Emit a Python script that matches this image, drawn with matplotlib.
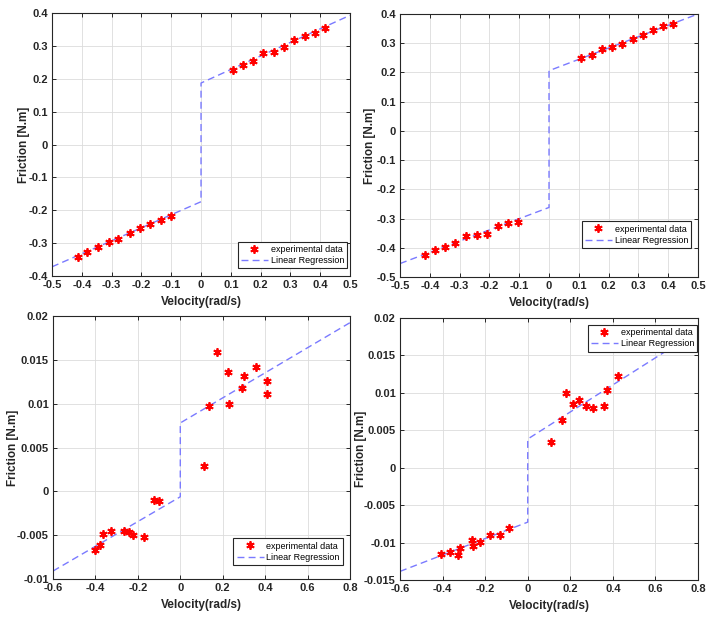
import numpy as np
import matplotlib
matplotlib.use('Agg')
import matplotlib.pyplot as plt
from matplotlib.ticker import FuncFormatter

plt.rcParams['font.family'] = ['Liberation Sans', 'DejaVu Sans']
plt.rcParams['axes.unicode_minus'] = False

# panel 1 (top left)
vel1 = [-0.412, -0.381, -0.345, -0.310, -0.277, -0.240, -0.205, -0.170, -0.135, -0.101,
        0.108, 0.141, 0.176, 0.208, 0.245, 0.279, 0.312, 0.348, 0.382, 0.417]
fric1 = [-0.342, -0.327, -0.313, -0.296, -0.286, -0.270, -0.253, -0.242, -0.230, -0.218,
         0.226, 0.243, 0.254, 0.278, 0.282, 0.298, 0.318, 0.331, 0.340, 0.355]
reg_x1 = [-0.5, 0, 0, 0.5]
reg_y1 = [-0.372, -0.174, 0.187, 0.393]

# panel 2 (top right)
vel2 = [-0.417, -0.382, -0.349, -0.315, -0.278, -0.242, -0.209, -0.172, -0.137, -0.105,
        0.107, 0.143, 0.177, 0.211, 0.245, 0.281, 0.315, 0.349, 0.382, 0.416]
fric2 = [-0.425, -0.409, -0.397, -0.385, -0.358, -0.357, -0.354, -0.327, -0.316, -0.313,
         0.248, 0.258, 0.279, 0.287, 0.298, 0.314, 0.328, 0.345, 0.358, 0.365]
reg_x2 = [-0.5, 0, 0, 0.5]
reg_y2 = [-0.454, -0.262, 0.206, 0.400]

# panel 3 (bottom left)
vel3 = [-0.404, -0.380, -0.366, -0.329, -0.264, -0.242, -0.222, -0.170, -0.124, -0.099,
        0.111, 0.134, 0.172, 0.224, 0.232, 0.290, 0.301, 0.357, 0.407, 0.407]
fric3 = [-0.00666, -0.00617, -0.00487, -0.00457, -0.00453, -0.00465, -0.00499, -0.00518, -0.00096, -0.00115,
         0.00291, 0.00971, 0.01594, 0.01362, 0.00997, 0.01184, 0.01320, 0.01423, 0.01256, 0.01108]
reg_x3 = [-0.6, 0, 0, 0.8]
reg_y3 = [-0.00909, -0.00062, 0.0078, 0.01924]

# panel 4 (bottom right)
vel4 = [-0.408, -0.365, -0.329, -0.317, -0.261, -0.259, -0.225, -0.175, -0.129, -0.090,
        0.107, 0.159, 0.178, 0.214, 0.240, 0.273, 0.306, 0.356, 0.373, 0.426]
fric4 = [-0.01154, -0.01123, -0.01163, -0.01078, -0.00967, -0.01047, -0.00989, -0.00900, -0.00905, -0.00811,
         0.00348, 0.00632, 0.01001, 0.00845, 0.00903, 0.00823, 0.00796, 0.00823, 0.01041, 0.01223]
reg_x4 = [-0.6, 0, 0, 0.8]
reg_y4 = [-0.01385, -0.00727, 0.00383, 0.0183]

panels = [
    dict(pos=[0.0736, 0.5541, 0.4215, 0.4249], v=vel1, f=fric1, rx=reg_x1, ry=reg_y1,
         xlim=(-0.5, 0.5), xt=np.arange(-0.5, 0.51, 0.1), ylim=(-0.4, 0.4), yt=np.arange(-0.4, 0.41, 0.1),
         leg=('lower right', (0.99, 0.03)), ylx=-0.0755),
    dict(pos=[0.5658, 0.5525, 0.4215, 0.4249], v=vel2, f=fric2, rx=reg_x2, ry=reg_y2,
         xlim=(-0.5, 0.5), xt=np.arange(-0.5, 0.51, 0.1), ylim=(-0.5, 0.4), yt=np.arange(-0.5, 0.41, 0.1),
         leg=('lower right', (0.977, 0.11)), ylx=-0.082),
    dict(pos=[0.075, 0.0646, 0.42, 0.4249], v=vel3, f=fric3, rx=reg_x3, ry=reg_y3,
         xlim=(-0.6, 0.8), xt=np.arange(-0.6, 0.81, 0.2), ylim=(-0.01, 0.02), yt=np.arange(-0.01, 0.0201, 0.005),
         leg=('lower right', (0.976, 0.053)), ylx=-0.116),
    dict(pos=[0.5658, 0.063, 0.4215, 0.4233], v=vel4, f=fric4, rx=reg_x4, ry=reg_y4,
         xlim=(-0.6, 0.8), xt=np.arange(-0.6, 0.81, 0.2), ylim=(-0.015, 0.02), yt=np.arange(-0.015, 0.0201, 0.005),
         leg=('upper right', (0.997, 0.973)), ylx=-0.111),
]

def fmt(v, pos):
    v = round(v, 6)
    if v == 0:
        return '0'
    return f'{v:g}'

fig = plt.figure(figsize=(7.07, 6.19), dpi=100)
dark = '#262626'

for p in panels:
    ax = fig.add_axes(p['pos'])
    ax.plot(p['v'], p['f'], linestyle='none', marker=(6, 2, 0), markersize=6,
            markeredgewidth=1.3, color='red', label='experimental data', zorder=3)
    ax.plot(p['rx'], p['ry'], linestyle=(0, (5, 3)), color='#7a7aff', linewidth=1.0,
            label='Linear Regression', zorder=2)
    ax.set_xlim(p['xlim'])
    ax.set_ylim(p['ylim'])
    ax.set_xticks(p['xt'])
    ax.set_yticks(p['yt'])
    ax.xaxis.set_major_formatter(FuncFormatter(fmt))
    ax.yaxis.set_major_formatter(FuncFormatter(fmt))
    ax.grid(True, color='#dcdcdc', linewidth=0.6)
    ax.set_axisbelow(True)
    ax.tick_params(direction='in', top=True, right=True, length=3, width=0.7,
                   colors=dark, labelsize=8, pad=3)
    for lab in ax.get_xticklabels() + ax.get_yticklabels():
        lab.set_fontweight('bold')
    for s in ax.spines.values():
        s.set_color(dark)
        s.set_linewidth(0.8)
    ax.set_xlabel('Velocity(rad/s)', fontsize=8.5, fontweight='bold', color=dark, labelpad=4)
    ax.set_ylabel('Friction [N.m]', fontsize=8.5, fontweight='bold', color=dark)
    ax.yaxis.set_label_coords(p['ylx'], 0.5)
    leg = ax.legend(loc=p['leg'][0], bbox_to_anchor=p['leg'][1], fontsize=6.5, fancybox=False,
                    framealpha=1, edgecolor=dark, borderaxespad=0, borderpad=0.35,
                    labelspacing=0.25, handlelength=3.0, handletextpad=0.3)
    leg.get_frame().set_linewidth(0.8)
    leg.set_zorder(5)

fig.savefig('out.png', dpi=100)
